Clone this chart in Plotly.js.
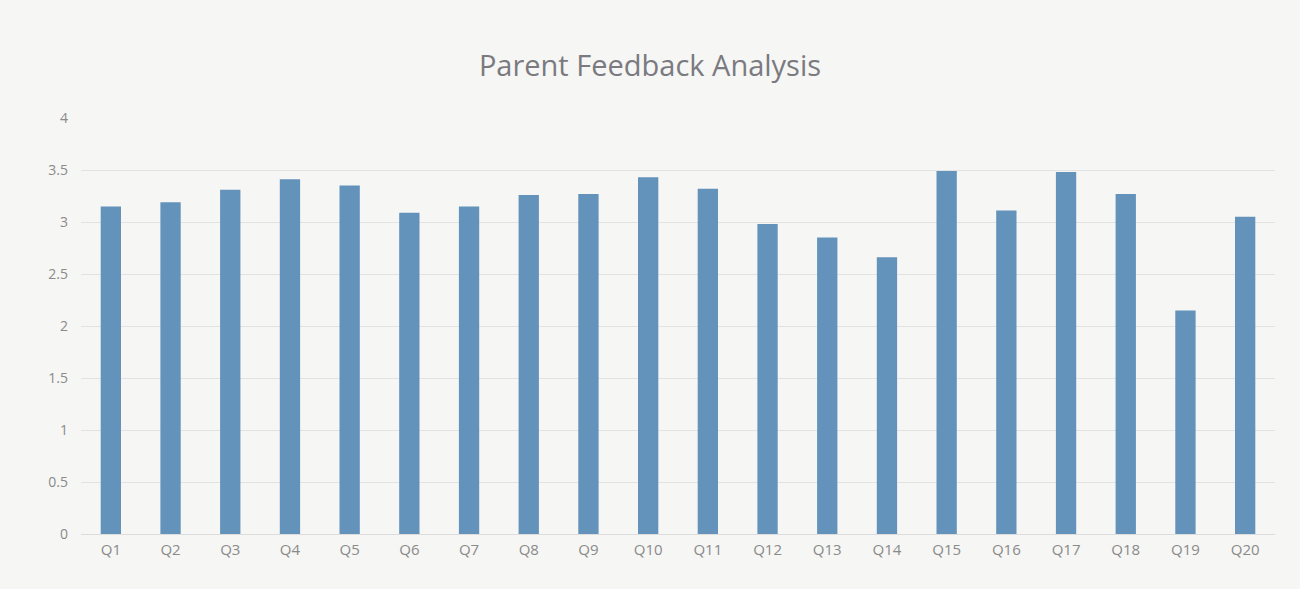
<!DOCTYPE html>
<html>
<head>
<meta charset="utf-8">
<script src="https://cdn.plot.ly/plotly-3.0.1.min.js"></script>
<style>html,body{margin:0;padding:0;background:#f6f6f4;}#chart{width:1300px;height:589px;}</style>
</head>
<body>
<div id="chart"></div>
<script>
const categories = ["Q1","Q2","Q3","Q4","Q5","Q6","Q7","Q8","Q9","Q10","Q11","Q12","Q13","Q14","Q15","Q16","Q17","Q18","Q19","Q20"];
const scores = [3.15,3.19,3.31,3.41,3.35,3.09,3.15,3.26,3.27,3.43,3.32,2.98,2.85,2.66,3.49,3.11,3.48,3.27,2.15,3.05];
const tickVals = [0,0.5,1,1.5,2,2.5,3,3.5,4];
const tickText = ["0","0.5","1","1.5","2","2.5","3","3.5","4"];

Plotly.newPlot('chart', [{
  type: 'bar',
  x: categories,
  y: scores,
  marker: {color: '#6392bb'},
  hoverinfo: 'x+y'
}], {
  width: 1300, height: 589,
  paper_bgcolor: '#f6f6f4',
  plot_bgcolor: '#f6f6f4',
  margin: {l: 81, r: 25, t: 118, b: 55},
  bargap: 0.66,
  title: {text: 'Parent Feedback Analysis', x: 0.5, xanchor: 'center', y: 0.888, yanchor: 'middle',
          font: {family: 'Open Sans, sans-serif', size: 29, color: '#7a7a80'}},
  xaxis: {
    type: 'category',
    tickfont: {family: 'Open Sans, sans-serif', size: 15, color: '#8a8a8a'},
    showgrid: false, zeroline: false, showline: true, linecolor: '#dcdcdc', ticks: '',
    ticklabelstandoff: 2
  },
  yaxis: {
    range: [0, 4],
    tickvals: tickVals, ticktext: tickText,
    tickfont: {family: 'Open Sans, sans-serif', size: 14, color: '#8a8a8a'},
    gridcolor: '#e2e2e2', gridwidth: 1, zeroline: false, showline: false,
    ticklabelstandoff: 12
  },
  showlegend: false
}, {displayModeBar: false, staticPlot: true});
</script>
</body>
</html>
